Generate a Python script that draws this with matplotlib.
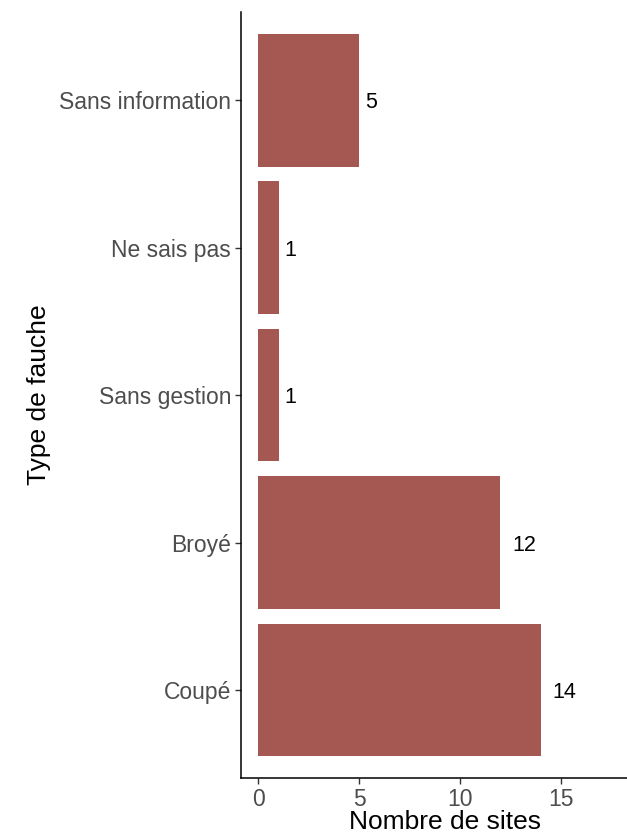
import matplotlib
matplotlib.use("Agg")
import matplotlib.pyplot as plt

plt.rcParams['font.family'] = ['Liberation Sans', 'DejaVu Sans']

categories = ["Coupé", "Broyé", "Sans gestion", "Ne sais pas", "Sans information"]
values = [14, 12, 1, 1, 5]
bar_color = "#A55751"

fig = plt.figure(figsize=(6.27, 8.35), dpi=100)
ax = fig.add_axes([0.384, 0.0679, 0.616, 0.9177])

ypos = list(range(1, len(categories) + 1))
ax.barh(ypos, values, height=0.9, color=bar_color)

for y, v in zip(ypos, values):
    s = str(v)
    gap = 0.5 * len(s) * 0.556
    ax.annotate(s, (v, y), xytext=(gap, 0), textcoords='offset fontsize',
                ha='left', va='center_baseline', fontsize=15.5, color='black')

ax.set_xlim(-0.87, 18.27)
ax.set_ylim(0.4, 5.6)
ax.set_yticks(ypos)
ax.set_yticklabels(categories)
ax.set_xticks([0, 5, 10, 15])

for side in ['top', 'right']:
    ax.spines[side].set_visible(False)
for side in ['left', 'bottom']:
    ax.spines[side].set_linewidth(1.1)
    ax.spines[side].set_color('black')

ax.tick_params(axis='both', length=4, width=1.0, color='#333333',
               labelsize=16.5, labelcolor='#4D4D4D', pad=3)

ax.set_xlabel("Nombre de sites", fontsize=19, color='black')
ax.xaxis.set_label_coords(0.53, -0.042)
ax.set_ylabel("Type de fauche", fontsize=19, color='black', labelpad=6)

fig.savefig("out.png", dpi=100)
